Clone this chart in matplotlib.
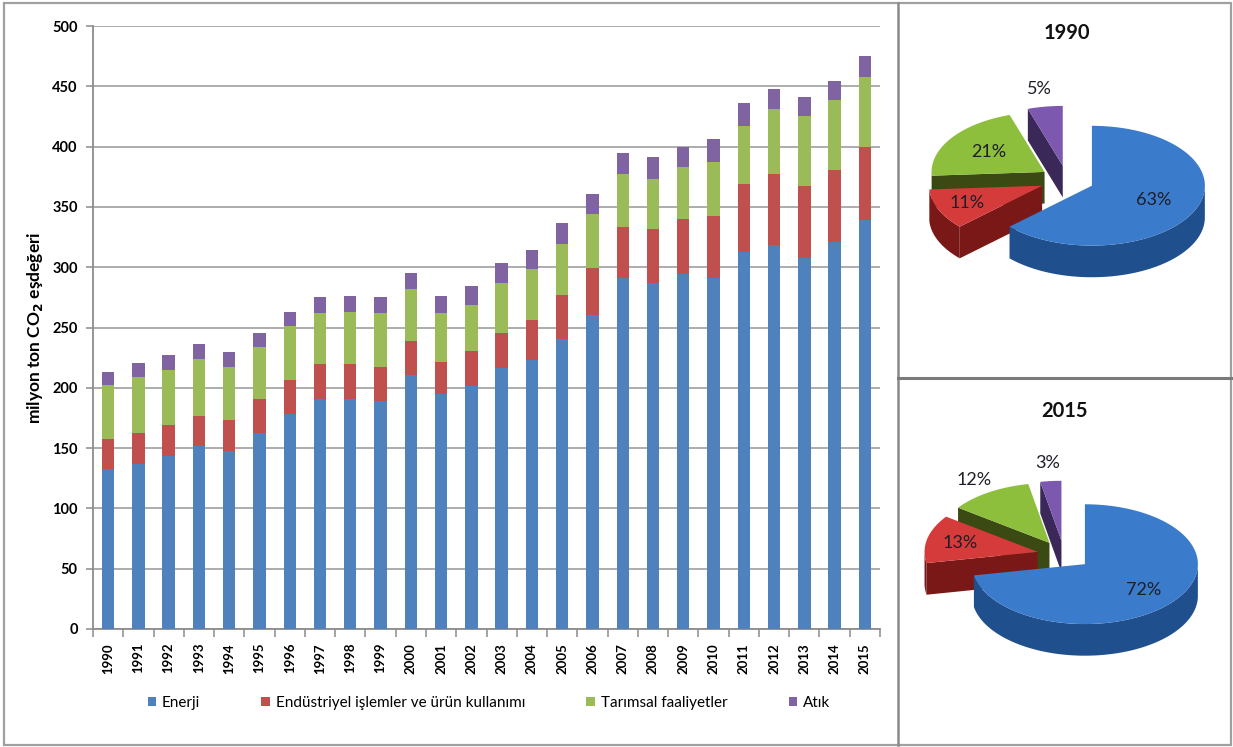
import numpy as np
import matplotlib
matplotlib.use("Agg")
import matplotlib.pyplot as plt
from matplotlib.patches import Polygon, Rectangle
from matplotlib.lines import Line2D

plt.rcParams['font.family'] = ['Lato', 'DejaVu Sans']

# ---------------------------------------------------------------- data
years = [str(y) for y in range(1990, 2016)]
categories = ["Enerji", "Endüstriyel işlemler ve ürün kullanımı",
              "Tarımsal faaliyetler", "Atık"]

enerji = [132.7, 136.8, 143.4, 151.7, 147.6, 162.3, 178.5, 190.5, 190.5, 189.3,
          210.6, 194.6, 201.5, 216.1, 222.8, 240.2, 260.4, 291.3, 287.2, 294.1,
          291.3, 312.9, 318.2, 307.4, 320.6, 339.4]
endustri = [24.6, 25.5, 25.8, 25.2, 25.4, 28.4, 28.2, 29.5, 29.5, 28.2,
            28.2, 27.1, 29.3, 29.6, 33.4, 36.7, 39.2, 41.8, 44.5, 45.6,
            51.2, 56.1, 59.0, 60.2, 60.3, 60.3]
tarim = [45.3, 46.9, 45.6, 47.2, 44.2, 42.9, 44.3, 41.8, 42.8, 44.3,
         42.9, 40.1, 37.6, 41.5, 42.1, 42.3, 44.2, 44.2, 41.4, 43.3,
         45.1, 48.3, 53.7, 57.8, 58.0, 58.0]
atik = [10.7, 11.1, 12.2, 12.2, 12.2, 12.1, 12.1, 13.5, 13.6, 13.5,
        13.5, 14.6, 16.0, 16.0, 16.0, 17.7, 17.2, 17.1, 18.5, 16.7,
        18.9, 18.6, 17.1, 16.0, 15.7, 17.4]

pie_1990 = [63, 11, 21, 5]
pie_2015 = [72, 13, 12, 3]

# ---------------------------------------------------------------- styles
bar_colors = ["#4F81BD", "#C0504D", "#9BBB59", "#8064A2"]
top_colors = ["#3B7BCB", "#D63B3B", "#8DBF3C", "#7C59AE"]
wall_colors = ["#1F4F8C", "#7A1818", "#3A4A12", "#3A2858"]
grid_col = "#A6A6A6"
axis_col = "#8C8C8C"

W, H = 1233, 747
fig = plt.figure(figsize=(W / 100, H / 100), dpi=100)
fig.patch.set_facecolor("white")


def fx(px):
    return px / W


def fy(py):
    return 1 - py / H


# ---------------------------------------------------------------- stacked bars
ax = fig.add_axes([fx(93), fy(629), fx(880) - fx(93), fy(26) - fy(629)])
x = np.arange(len(years))
bottom = np.zeros(len(years))
for vals, col, name in zip([enerji, endustri, tarim, atik], bar_colors, categories):
    ax.bar(x, vals, width=0.41, bottom=bottom, color=col, label=name, zorder=3,
           linewidth=0)
    bottom += np.array(vals)

ax.set_xlim(-0.5, len(years) - 0.5)
ax.set_ylim(0, 500)
ax.set_yticks(np.arange(0, 501, 50))
ax.yaxis.grid(True, color=grid_col, linewidth=1.3, zorder=0)
ax.set_axisbelow(True)
for s in ["top", "right"]:
    ax.spines[s].set_visible(False)
for s in ["left", "bottom"]:
    ax.spines[s].set_color(axis_col)
    ax.spines[s].set_linewidth(1.3)

ax.set_xticks(x)
ax.set_xticklabels(years, rotation=90, fontsize=9.5, fontweight="bold")
ax.set_xticks(np.arange(-0.5, len(years), 1), minor=True)
ax.tick_params(axis="x", which="major", length=0, pad=10)
ax.tick_params(axis="x", which="minor", length=6, width=1.1, color=axis_col,
               direction="out")
ax.tick_params(axis="y", length=5, width=1.1, color=axis_col, pad=6,
               labelsize=10.5)
for lab in ax.get_yticklabels():
    lab.set_fontweight("bold")

ax.set_ylabel("milyon ton CO$_\\mathbf{2}$ eşdeğeri", fontsize=12.5,
              fontweight="bold", labelpad=5)

handles, labels = ax.get_legend_handles_labels()
fig.legend(handles, labels, loc="center", bbox_to_anchor=(fx(489), fy(703)),
           ncol=4, frameon=False, fontsize=11, handlelength=0.55,
           handleheight=0.55, handletextpad=0.4, columnspacing=4.0)


# ---------------------------------------------------------------- 3D pies
def pie3d(axp, values, labels, label_r, tilt=0.53, depth=0.28, explode=0.24):
    total = float(sum(values))
    angles = []
    start = 90.0
    for v in values:
        span = 360.0 * v / total
        angles.append((start, start - span))
        start -= span

    slices = []
    for i, (a1, a2) in enumerate(angles):
        mid = np.deg2rad((a1 + a2) / 2)
        off = np.array([explode * np.cos(mid), explode * tilt * np.sin(mid)])
        slices.append((i, a1, a2, mid, off))

    # paint from the back of the pie towards the viewer
    slices.sort(key=lambda s: -np.sin(s[3]))
    for i, a1, a2, mid, off in slices:
        th = np.deg2rad(np.linspace(a1, a2, 120))
        arc = np.column_stack([np.cos(th), tilt * np.sin(th)]) + off
        c = off
        down = np.array([0, -depth])
        # radial cut faces turned to the viewer
        for ang, sign in [(a1, -1), (a2, 1)]:
            r = np.deg2rad(ang)
            vis = (np.cos(r) < -1e-6) if sign < 0 else (np.cos(r) > 1e-6)
            if vis:
                e = c + np.array([np.cos(r), tilt * np.sin(r)])
                axp.add_patch(Polygon([c, e, e + down, c + down],
                                      closed=True, facecolor=wall_colors[i],
                                      edgecolor="none"))
        # outer wall, front half only
        front = np.sin(th) < 0
        if front.any():
            idx = np.where(front)[0]
            groups = np.split(idx, np.where(np.diff(idx) > 1)[0] + 1)
            for g in groups:
                pts = arc[g]
                poly = np.vstack([pts, (pts + down)[::-1]])
                axp.add_patch(Polygon(poly, closed=True,
                                      facecolor=wall_colors[i],
                                      edgecolor="none"))
        top = np.vstack([c, arc])
        axp.add_patch(Polygon(top, closed=True, facecolor=top_colors[i],
                              edgecolor="none"))

    for i, (a1, a2) in enumerate(angles):
        mid = np.deg2rad((a1 + a2) / 2)
        rr = explode + label_r[i]
        axp.text(rr * np.cos(mid), rr * tilt * np.sin(mid), labels[i],
                 ha="center", va="center", fontsize=13, color="#1E1E28")


def pie_panel(panel, center, title, values, label_r):
    x0, y0, x1, y1 = panel
    cx, cy = center
    rad = 113.0
    axp = fig.add_axes([fx(x0), fy(y1), fx(x1) - fx(x0), fy(y0) - fy(y1)])
    axp.set_xlim((x0 - cx) / rad, (x1 - cx) / rad)
    axp.set_ylim((cy - y1) / rad, (cy - y0) / rad)
    axp.axis("off")
    pie3d(axp, values, [f"{v}%" for v in values], label_r)
    axp.text(0, (cy - y0) / rad - 0.29, title, ha="center", va="center",
             fontsize=14.5, fontweight="bold", color="#111111")


pie_panel((898, 0, 1233, 378), (1067, 180), "1990", pie_1990,
          [0.6, 0.72, 0.6, 1.3])
pie_panel((898, 378, 1233, 747), (1064, 555), "2015", pie_2015,
          [0.68, 0.7, 1.25, 1.3])

# ---------------------------------------------------------------- frames
fig.add_artist(Rectangle((fx(4), fy(745)), fx(1231) - fx(4), fy(3) - fy(745),
                         transform=fig.transFigure, fill=False,
                         edgecolor="#A0A0A0", linewidth=1.6))
fig.add_artist(Line2D([fx(898), fx(898)], [fy(3), fy(745)],
                      transform=fig.transFigure, color="#8A8A8A", linewidth=1.8))
fig.add_artist(Line2D([fx(898), fx(1231)], [fy(378), fy(378)],
                      transform=fig.transFigure, color="#7A7A7A", linewidth=2.2))

fig.savefig("out.png", dpi=100, facecolor="white")
